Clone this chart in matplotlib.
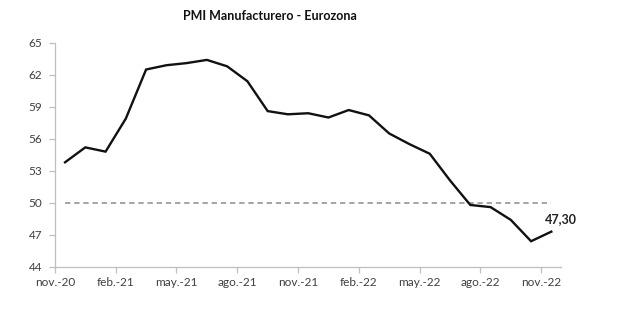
# libraries
import numpy as np
import matplotlib.pyplot as plt

plt.rcParams['font.family'] = ['Lato', 'DejaVu Sans']

# monthly PMI values, nov-20 .. nov-22
pmi = [53.8, 55.2, 54.8, 57.9, 62.5, 62.9, 63.1, 63.4, 62.8, 61.4, 58.6, 58.3, 58.4,
       58.0, 58.7, 58.2, 56.5, 55.5, 54.6, 52.1, 49.8, 49.6, 48.4, 46.4, 47.3]
tick_labels = ['nov.-20', 'feb.-21', 'may.-21', 'ago.-21', 'nov.-21',
               'feb.-22', 'may.-22', 'ago.-22', 'nov.-22']
threshold = 50

# categories centred between tick marks (Excel style)
x = np.arange(len(pmi)) + 0.5

fig = plt.figure(figsize=(6.17, 3.27), dpi=100)
ax = fig.add_axes([0.089, 0.184, 0.821, 0.685])

ax.plot(x, [threshold] * len(pmi), color='#8c8c8c', lw=1.1, ls=(0, (3.5, 2.5)))
ax.plot(x, pmi, color='#111111', lw=1.7, solid_joinstyle='miter')

ax.annotate('47,30', (x[-1], pmi[-1]), xytext=(7, 9), textcoords='offset points',
            ha='center', va='center', fontsize=9, fontweight='bold', color='#222222')

ax.set_xlim(0, len(pmi))
ax.set_ylim(44, 65)
ax.set_yticks(np.arange(44, 66, 3))
ax.set_xticks(np.arange(0, len(pmi), 3))
ax.set_xticklabels(tick_labels)

for s in ['top', 'right']:
    ax.spines[s].set_visible(False)
for s in ['left', 'bottom']:
    ax.spines[s].set_color('#bfbfbf')
    ax.spines[s].set_linewidth(0.9)
ax.tick_params(axis='both', colors='#bfbfbf', labelcolor='#404040', labelsize=8.5,
               length=4, width=0.9)
ax.tick_params(axis='x', pad=3)
ax.tick_params(axis='y', pad=5)

fig.text(0.437, 0.951, 'PMI Manufacturero - Eurozona', ha='center', va='center',
         fontsize=9, fontweight='bold', color='#111111')

fig.savefig('out.png', dpi=100)
